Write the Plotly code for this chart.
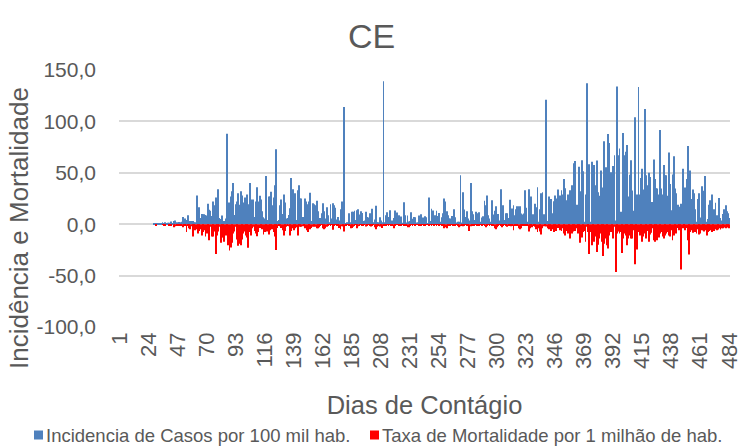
import plotly.graph_objects as go

# Dias de contágio (eixo de categorias 1..484)
dias = list(range(1, 485))

# Incidência de casos por 100 mil habitantes, por dia
incidencia = [
    # dias 1-27
    0, 0, 0, 0, 0, 0, 0, 0, 0, 0, 0, 0, 0, 0, 0, 0, 0, 0, 0, 0, 0, 0, 0, 0, 0, 0, 0,
    # dias 28-70
    0.3, 0.5, 1.0, 1.0, 1.2, 1.0, 0.8, 2.0, 0.5, 2.0, 0.8, 1.5, 1.5, 1.2, 2.6, 1.0, 3.0, 3.6, 2.0, 2.0,
    2.2, 2.0, 2.5, 7.0, 2.6, 5.5, 4.2, 8.8, 1.3, 3.0, 3.2, 3.0, 1.6, 2.0, 28.0, 5.0, 16.5, 6.0, 10.0, 9.4,
    9.7, 9.0, 8.4,
    # dias 71-86
    20, 14, 13, 8, 22, 18.5, 26, 5.5, 34, 6, 5, 8.4, 2, 3, 5.5, 88,
    # dias 87-124
    21, 21, 27, 32, 40, 9, 19.5, 22, 30, 19, 32, 28, 21, 26, 8, 29, 19.5, 40, 9.4, 24,
    24, 7, 22, 36, 22, 27.6, 24, 12.7, 6.8, 5.5, 46.8, 4, 27, 27, 31.5, 18.5, 26, 38,
    # dia 125
    73,
    # dias 126-140
    3, 4, 18.5, 24, 10, 29, 21, 5.5, 6, 9, 15.6, 45, 34, 9.7, 30,
    # dias 141-178
    4, 33, 38, 25, 25, 7, 4, 25, 22, 19.5, 22, 30.5, 3, 20.5, 19.5, 18.5, 22.7, 12.7, 2, 6,
    10.7, 20.5, 12.7, 5.5, 16.5, 8.8, 2, 19.5, 5.5, 20.5, 18.5, 16, 4.5, 7, 3.6, 14.6, 22, 14,
    # dia 179
    114,
    # dias 180-209
    1, 2, 1.3, 10.7, 2, 12, 12, 13, 4, 13.6, 14.6, 9.4, 12.7, 11, 3, 3.6, 12, 7, 6.5, 10.7,
    3, 15, 2, 4.5, 18, 2, 2, 6.8, 3.6, 2,
    # dias 210-211
    139, 2,
    # dias 212-270
    8.8, 11.7, 7, 13.6, 1.6, 3.6, 6, 13.3, 5.5, 11.4, 8.8, 5, 7.5, 1.3, 21.4, 8.8, 1.6, 8.4, 2.6, 3.2,
    11.7, 5.2, 7, 6.8, 1.6, 2, 8.4, 7, 9.7, 6.5, 3.6, 7.8, 6.8, 1, 26, 3, 15, 13.3, 6.8, 8.8,
    13, 8, 11, 2.3, 6.8, 10.7, 25, 22, 12.7, 8.8, 5.5, 5.5, 8, 5.5, 14.6, 6.8, 1.6, 2.3, 2.3,
    # dia 271
    47.7,
    # dias 272-281
    1.6, 31, 14.3, 7, 12.7, 5.5, 3.6, 40, 12.7, 9.7,
    # dias 282-338
    4, 12, 10.7, 8.8, 11.7, 2.3, 6.5, 7.8, 22.7, 18.5, 28, 8.8, 5.5, 2.3, 23.4, 9.4, 13, 17.5, 10, 10,
    3.6, 34, 13, 18.5, 4, 10.7, 10.7, 6, 23.7, 8.8, 15.3, 18.5, 8.8, 14.6, 17.5, 17.5, 17.5, 10.4, 9.4, 10.4,
    33, 16, 2.3, 34, 3.6, 27, 9.7, 9.7, 20, 16.5, 36, 2.3, 14.6, 30, 31, 9.7, 2.3,
    # dia 339
    121,
    # dias 340-351
    3, 27, 17.5, 24.4, 10.7, 22.4, 28, 25, 33.8, 17, 28, 33,
    # dias 352-370
    29, 44, 35, 23.4, 29, 22.4, 33, 38, 19, 59.4, 61.4, 19, 2.3, 56, 32, 62.3, 51.6, 2.3, 29,
    # dia 371
    137,
    # dias 372-394
    1, 58.4, 2.3, 60.7, 24.4, 57.5, 38, 62, 31, 27.6, 52.3, 2.3, 35.7, 80.8, 55.5, 30.8, 87.7, 79, 50.6, 15.6,
    56.5, 67, 3.6,
    # dia 395
    134,
    # dias 396-408
    67, 73.7, 12, 7, 88.6, 67, 70.5, 77, 27, 48, 62.3, 32.8, 13,
    # dias 409-421
    104, 5, 29, 133.4, 29, 45, 54, 33.8, 112, 47.7, 38, 50, 46,
    # dias 422-484
    1, 21.7, 63, 44, 35, 34.7, 29, 91.6, 34.7, 29, 57.5, 47.7, 47.7, 27.6, 69.8, 39, 13.6, 48.4, 66, 34.7,
    30, 19, 2.3, 17, 19.8, 54, 2, 35.7, 44, 76, 34, 52.3, 24.4, 33.8, 30, 14.6, 2.3, 24.4, 30, 6.5,
    37, 32.5, 23.4, 46.8, 2.3, 5, 19, 23.4, 29, 5.5, 14.6, 20.8, 8.8, 2.3, 25.6, 6, 3.6, 10, 14.6, 18.5,
    12.7, 10.7, 6,
]

# Taxa de mortalidade por 1 milhão de habitantes (plotada para baixo, com sinal negativo)
mortalidade = [
    # dias 1-27
    0, 0, 0, 0, 0, 0, 0, 0, 0, 0, 0, 0, 0, 0, 0, 0, 0, 0, 0, 0, 0, 0, 0, 0, 0, 0, 0,
    # dias 28-70
    0, 0, -1.6, 0, 0, 0, 0, -0.5, -1.5, -1.0, 0, 0, -1.3, 0, -1.3, 0, -3.0, -2.0, -1.3, -1.3,
    -1.0, -1.3, -1.3, -3.0, -1.3, -1.3, -7.5, -1.3, -4.0, -5.0, -2.0, -12.0, -5.0, -6.0, -5.0, -9.0, -6.5, -5.0, -11.0, -7.5,
    -6.0, -12.0, -9.0,
    # dias 71-77
    -7.5, -15.6, -2.6, -12, -12, -7, -29,
    # dias 78-124
    -11, -7, -2.6, -18, -13, -12.7, -17, -11, -4, -20.5, -25.6, -22.7, -18, -9, -7, -2.6, -15, -21, -19, -20.5,
    -15, -9, -7, -11, -13, -23, -7.5, -11, -4, -2.6, -6.5, -9, -11.7, -7.5, -3.6, -2.6, -5, -10, -7.5, -5,
    -7, -10, -6, -2.3, -5, -7.5, -12,
    # dia 125
    -25,
    # dias 126-140
    -3.6, -1.6, -2, -3.6, -6, -11, -6.5, -2.6, -1.6, -2, -11, -6.5, -4, -6, -4,
    # dias 141-211
    -3, -11, -1, -2.6, -2.6, -2, -1, -4, -6, -7.5, -1, -5, -3.6, -2.6, -2, -2.6, -4, -4, -3, -1,
    -0.5, -4, -5, -4, -2.6, -1.3, -0.5, -1, -0.5, -5.5, -1.3, -0.5, -1.6, -1, -3.6, -5, -2, -2, -7, -1,
    -0.5, -0.5, -1, -4, -3.6, -2.6, -1, -0.5, -4, -2, -1, -0.5, -1.6, -1, -0.5, -2.3, -1.6, -0.5, -1, -2.3,
    -1, -0.5, -3, -5, -2.6, -1, -2.3, -0.5, -3.6, -1.5, -1,
    # dias 212-281
    -1.5, -0.5, -1, -0.5, -1, -1, -4, -1, -0.5, -0.5, -1, -0.5, -1, -0.5, -1, -0.5, -1, -3, -3, -1,
    -0.5, -1, -0.5, -1, -0.5, -0.5, -1, -0.5, -1, -0.5, -1, -1.5, -0.5, -0.5, -1, -0.5, -1, -0.5, -1, -0.5,
    -1.5, -0.5, -1, -0.5, -1, -1, -4, -3, -4, -1.5, -1, -1.5, -0.5, -1, -1.5, -1, -0.5, -1, -3, -2,
    -1, -2, -1, -0.5, -1, -1.5, -6.5, -2, -1, -1,
    # dias 282-351
    -1, -0.5, -1, -0.5, -1, -0.5, -1, -0.5, -1, -3, -1, -0.5, -1, -0.5, -1.5, -1, -4, -5, -3, -1,
    -0.5, -1, -3, -1, -0.5, -1, -2.6, -1, -1.5, -2, -1, -6, -1, -1.5, -1, -4, -5, -4, -1, -1.5,
    -1, -0.5, -1, -7, -4, -1, -3, -1, -2.6, -5, -7.5, -4, -7, -10, -4, -2, -1, -2.3, -4, -5,
    -2.6, -6.5, -5, -7.5, -4, -6.5, -3.6, -3, -6, -6.5,
    # dias 352-421
    -4, -9, -11, -6.5, -9, -7.5, -14, -9, -7, -6, -6.5, -4, -9, -7.5, -18, -13, -7.5, -6.5, -17, -2.6,
    -7.5, -29, -7.5, -20.5, -6.5, -17, -12, -27, -20, -14, -9, -17, -31, -19, -14, -20.5, -23.7, -11, -7.5, -6.5,
    -14, -2.6, -46.4, -9, -7, -9, -7.5, -28, -14, -9, -11, -20.5, -14, -11, -14, -14, -6, -39, -7.5, -24.7,
    -7.5, -11, -9, -17, -12, -9, -14, -6.5, -17, -10,
    # dias 422-484
    -8.4, -4, -15.6, -17, -9, -15.6, -13, -9, -7.5, -12, -14, -11, -9, -7.5, -11, -12, -6, -15.6, -11, -7.5,
    -9, -3.6, -6, -2.6, -44, -4, -1, -6, -3.6, -15.6, -29.5, -7.5, -6, -8.4, -6, -7.5, -9, -4.9, -10, -9,
    -6, -6, -7, -6, -11, -7.5, -6.5, -6, -7.5, -6, -6.5, -5, -6, -5.2, -4, -5.2, -4, -4, -3.3, -4,
    -2.6, -3.3, -4,
]

# Rótulos do eixo horizontal (a cada 23 dias) e do eixo vertical
rotulos_x = ["1", "24", "47", "70", "93", "116", "139", "162", "185", "208", "231",
             "254", "277", "300", "323", "346", "369", "392", "415", "438", "461", "484"]
valores_y = [-100, -50, 0, 50, 100, 150]
rotulos_y = ["-100,0", "-50,0", "0,0", "50,0", "100,0", "150,0"]

assert len(incidencia) == len(dias), len(incidencia)
assert len(mortalidade) == len(dias), len(mortalidade)

AZUL = "#4F81BD"
VERMELHO = "#FF0000"
CINZA_TEXTO = "#595959"
CINZA_GRADE = "#D9D9D9"
FONTE = "Liberation Sans, Arial, sans-serif"

# Geometria da área de plotagem (px)
ESQ, DIR, TOPO, BASE = 119, 730, 70, 327
W, H = 743, 447


def px_x(x):
    return (x - ESQ) / (DIR - ESQ)


def px_y(y):
    return (BASE - y) / (BASE - TOPO)


fig = go.Figure()
fig.add_bar(x=dias, y=incidencia, name="Incidencia de Casos por 100 mil hab.",
            marker=dict(color=AZUL, line_width=0), showlegend=False)
fig.add_bar(x=dias, y=mortalidade, name="Taxa de Mortalidade por 1 milhão de hab.",
            marker=dict(color=VERMELHO, line_width=0), showlegend=False)

# Legenda em linha única abaixo do título do eixo X
series_legenda = [
    ("Incidencia de Casos por 100 mil hab.", AZUL, 34),
    ("Taxa de Mortalidade por 1 milhão de hab.", VERMELHO, 370),
]
formas = []
notas = []
for texto, cor, x0 in series_legenda:
    formas.append(dict(type="rect", xref="paper", yref="paper",
                       x0=px_x(x0), x1=px_x(x0 + 9), y0=px_y(439.5), y1=px_y(430.5),
                       fillcolor=cor, line_width=0))
    notas.append(dict(text=texto, xref="paper", yref="paper",
                      x=px_x(x0 + 10), xanchor="left", y=px_y(435), yanchor="middle",
                      showarrow=False, font=dict(size=18.5, color=CINZA_TEXTO)))

# Título do eixo vertical
notas.append(dict(text="Incidência e Mortalidade", textangle=-90,
                  xref="paper", x=px_x(19), xanchor="center",
                  yref="paper", y=px_y(228), yanchor="middle",
                  showarrow=False, font=dict(size=26, color=CINZA_TEXTO)))

fig.update_layout(
    width=W, height=H,
    margin=dict(l=ESQ, r=W - DIR, t=TOPO, b=H - BASE, autoexpand=False),
    barmode="relative", bargap=0.3,
    plot_bgcolor="white", paper_bgcolor="white",
    font=dict(family=FONTE, color=CINZA_TEXTO),
    title=dict(text="CE", x=0.5, xref="container", xanchor="center",
               y=1 - 36 / H, yref="container", yanchor="middle",
               font=dict(size=34, color=CINZA_TEXTO)),
    showlegend=False,
    shapes=formas,
    annotations=notas,
)
fig.update_xaxes(
    range=[0.5, 484.5], tickmode="array",
    tickvals=[int(t) for t in rotulos_x], ticktext=rotulos_x,
    tickangle=-90, tickfont=dict(size=22, color=CINZA_TEXTO),
    showgrid=False, zeroline=False, showline=False, ticks="",
    automargin=False, ticklabeloverflow="allow",
    title=dict(text="Dias de Contágio", font=dict(size=25.5, color=CINZA_TEXTO), standoff=28),
)
fig.update_yaxes(
    range=[-100, 150], tickmode="array", tickvals=valores_y, ticktext=rotulos_y,
    tickfont=dict(size=21, color=CINZA_TEXTO),
    showgrid=True, gridcolor=CINZA_GRADE, gridwidth=2,
    zeroline=True, zerolinecolor=CINZA_GRADE, zerolinewidth=2,
    showline=False, ticks="", ticklabelstandoff=22, automargin=False,
)

fig.write_html("out.html")
